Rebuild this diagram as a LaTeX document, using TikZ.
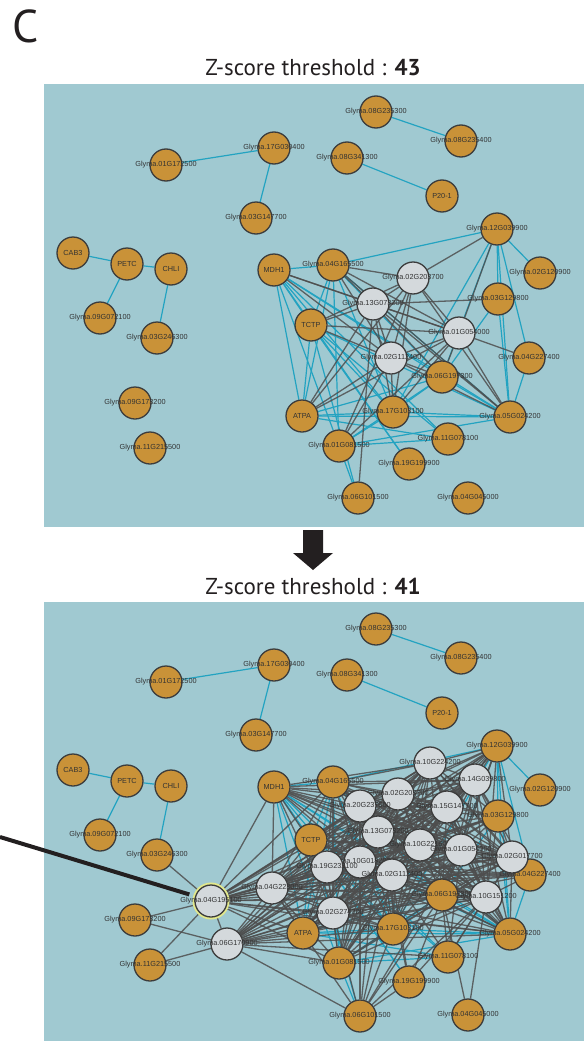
\documentclass[tikz,border=0pt]{standalone}
\usepackage{fontspec}
\setmainfont{PT Sans}
\newfontfamily\lblfont{Liberation Sans}
\pgfdeclarelayer{bg}
\pgfdeclarelayer{edges}
\pgfsetlayers{bg,edges,main}
\definecolor{panelbg}{RGB}{160,201,209}
\definecolor{orangefill}{RGB}{201,146,56}
\definecolor{greyfill}{RGB}{212,217,220}
\definecolor{nodeline}{RGB}{60,60,60}
\definecolor{cyanedge}{RGB}{35,163,193}
\definecolor{greyedge}{RGB}{78,78,78}
\definecolor{labeltext}{RGB}{50,50,50}
\definecolor{ringcol}{RGB}{226,232,140}
\definecolor{inkblack}{RGB}{35,31,32}
\tikzset{
  on/.style={circle, draw=nodeline, fill=orangefill, line width=1.3pt, minimum size=32pt, inner sep=0pt},
  gn/.style={circle, draw=nodeline, fill=greyfill, line width=1.3pt, minimum size=32pt, inner sep=0pt},
  hl/.style={preaction={draw=ringcol, line width=5pt}},
  lbl/.style={font=\lblfont\fontsize{7.3}{8}\selectfont, text=labeltext, inner sep=0pt},
  cy/.style={draw=cyanedge, line width=1.2pt},
  gy/.style={draw=greyedge, line width=1.3pt, opacity=0.85},
  ttl/.style={font=\fontsize{23}{26}\selectfont, text=inkblack, anchor=base, inner sep=0pt},
  panel/.style={fill=panelbg}
}
\newcommand\nodeO[3]{\node[on,label={[lbl]center:#3}] (#1) at (#2) {};}
\newcommand\nodeG[3]{\node[gn,label={[lbl]center:#3}] (#1) at (#2) {};}
\def\toplistcy{01G172500/17G030400, 17G030400/03G147700, CAB3/PETC, PETC/CHLI, PETC/09G072100, CHLI/03G246300,
 08G235300/08G235400, 08G341300/P201, 04G165500/12G039900, 12G039900/02G120900, 12G039900/03G129800,
 12G039900/04G227400, 12G039900/05G024200, 12G039900/17G103100, 12G039900/06G197300, 03G129800/05G024200,
 03G129800/06G197300, 04G227400/05G024200,
 MDH1/04G165500, MDH1/TCTP, MDH1/ATPA, MDH1/01G081500, MDH1/17G103100, MDH1/06G197300, MDH1/05G024200,
 MDH1/19G199900, MDH1/11G078100,
 04G165500/TCTP, 04G165500/ATPA, 04G165500/01G081500, 04G165500/17G103100, 04G165500/06G197300, 04G165500/05G024200,
 TCTP/06G101500, TCTP/19G199900, TCTP/05G024200, TCTP/11G078100, TCTP/17G103100, TCTP/ATPA,
 ATPA/05G024200, ATPA/11G078100, ATPA/17G103100, ATPA/06G197300,
 17G103100/05G024200, 17G103100/06G197300, 01G081500/05G024200, 01G081500/11G078100, 01G081500/06G101500,
 01G081500/06G197300, 06G197300/05G024200, 01G081500/17G103100}
\def\corelist{10G224200,14G039800,02G203700,20G237600,15G147700,13G073200,10G221600,01G054000,02G017700,10G018200,19G232100,02G112400,04G223000,10G151200,02G274200}
\begin{document}
\begin{tikzpicture}[x=1pt,y=-1pt]
\useasboundingbox (0,0) rectangle (588,1041);
\begin{pgfonlayer}{bg}
\fill[panel] (44,84) rectangle (584,527);
\fill[panel] (44,602) rectangle (584,1041);
\end{pgfonlayer}
% headings
\node[anchor=base west, inner sep=0pt, font=\fontsize{46}{46}\selectfont, text=inkblack] (lbC) at (12,43) {C};
\node[ttl] (title1) at (313,76) {Z-score threshold : \textbf{43}};
\node[ttl] (title2) at (313,594) {Z-score threshold : \textbf{41}};
\coordinate (arrtop) at (313,530);
\fill[inkblack] (arrtop) ++(-10,0) -- ++(20,0) -- ++(0,23) -- ++(10,0) -- ++(-20,17) -- ++(-20,-17) -- ++(10,0) -- cycle;

% ---------------- top network ----------------
\nodeO{t01G172500}{166,165}{Glyma.01G172500}
\nodeO{t17G030400}{274,148}{Glyma.17G030400}
\nodeO{t03G147700}{256,218}{Glyma.03G147700}
\nodeO{tCAB3}{73,253}{CAB3}
\nodeO{tPETC}{127,264}{PETC}
\nodeO{tCHLI}{171,269}{CHLI}
\nodeO{tMDH1}{274,270}{MDH1}
\nodeO{t09G072100}{100,318}{Glyma.09G072100}
\nodeO{t03G246300}{157,338}{Glyma.03G246300}
\nodeO{t09G173200}{135,403}{Glyma.09G173200}
\nodeO{t11G215500}{150,448}{Glyma.11G215500}
\nodeO{t08G235300}{376,112}{Glyma.08G235300}
\nodeO{t08G235400}{461,141}{Glyma.08G235400}
\nodeO{t08G341300}{347,158}{Glyma.08G341300}
\nodeO{tP201}{442,196}{P20-1}
\nodeO{t12G039900}{497,229}{Glyma.12G039900}
\nodeO{t02G120900}{540,273}{Glyma.02G120900}
\nodeO{t04G165500}{333,265}{Glyma.04G165500}
\nodeG{t02G203700}{413,278}{Glyma.02G203700}
\nodeG{t13G073200}{373,304}{Glyma.13G073200}
\nodeO{t03G129800}{498,299}{Glyma.03G129800}
\nodeO{tTCTP}{311,325}{TCTP}
\nodeG{t01G054000}{459,333}{Glyma.01G054000}
\nodeG{t02G112400}{391,358}{Glyma.02G112400}
\nodeO{t04G227400}{529,358}{Glyma.04G227400}
\nodeO{t06G197300}{442,377}{Glyma.06G197300}
\nodeO{tATPA}{302,416}{ATPA}
\nodeO{t17G103100}{393,412}{Glyma.17G103100}
\nodeO{t05G024200}{510,417}{Glyma.05G024200}
\nodeO{t01G081500}{339,446}{Glyma.01G081500}
\nodeO{t11G078100}{448,439}{Glyma.11G078100}
\nodeO{t19G199900}{409,464}{Glyma.19G199900}
\nodeO{t06G101500}{358,498}{Glyma.06G101500}
\nodeO{t04G045000}{468,498}{Glyma.04G045000}

% ---------------- bottom network ----------------
\nodeO{b01G172500}{166,682}{Glyma.01G172500}
\nodeO{b17G030400}{274,665}{Glyma.17G030400}
\nodeO{b03G147700}{256,735}{Glyma.03G147700}
\nodeO{bCAB3}{73,770}{CAB3}
\nodeO{bPETC}{127,781}{PETC}
\nodeO{bCHLI}{171,786}{CHLI}
\nodeO{bMDH1}{274,787}{MDH1}
\nodeO{b09G072100}{100,835}{Glyma.09G072100}
\nodeO{b03G246300}{157,855}{Glyma.03G246300}
\nodeO{b09G173200}{135,920}{Glyma.09G173200}
\nodeO{b11G215500}{150,965}{Glyma.11G215500}
\nodeO{b08G235300}{376,629}{Glyma.08G235300}
\nodeO{b08G235400}{461,658}{Glyma.08G235400}
\nodeO{b08G341300}{347,675}{Glyma.08G341300}
\nodeO{bP201}{442,713}{P20-1}
\nodeO{b12G039900}{497,746}{Glyma.12G039900}
\nodeO{b02G120900}{540,790}{Glyma.02G120900}
\nodeO{b04G165500}{333,782}{Glyma.04G165500}
\nodeO{b03G129800}{498,816}{Glyma.03G129800}
\nodeO{bTCTP}{311,840}{TCTP}
\nodeO{b04G227400}{530,875}{Glyma.04G227400}
\nodeO{b06G197300}{442,895}{Glyma.06G197300}
\nodeO{bATPA}{303,933}{ATPA}
\nodeO{b17G103100}{393,929}{Glyma.17G103100}
\nodeO{b05G024200}{510,934}{Glyma.05G024200}
\nodeO{b01G081500}{339,963}{Glyma.01G081500}
\nodeO{b11G078100}{448,957}{Glyma.11G078100}
\nodeO{b19G199900}{409,982}{Glyma.19G199900}
\nodeO{b06G101500}{360,1016}{Glyma.06G101500}
\nodeO{b04G045000}{468,1015}{Glyma.04G045000}
\nodeG{b10G224200}{430,763}{Glyma.10G224200}
\nodeG{b14G039800}{475,780}{Glyma.14G039800}
\nodeG{b02G203700}{398,794}{Glyma.02G203700}
\nodeG{b20G237600}{360,806}{Glyma.20G237600}
\nodeG{b15G147700}{447,807}{Glyma.15G147700}
\nodeG{b13G073200}{378,832}{Glyma.13G073200}
\nodeG{b10G221600}{420,845}{Glyma.10G221600}
\nodeG{b01G054000}{461,850}{Glyma.01G054000}
\nodeG{b02G017700}{512,857}{Glyma.02G017700}
\nodeG{b10G018200}{360,862}{Glyma.10G018200}
\nodeG{b19G232100}{327,867}{Glyma.19G232100}
\nodeG{b02G112400}{392,875}{Glyma.02G112400}
\nodeG{b04G223000}{272,888}{Glyma.04G223000}
\nodeG{b10G151200}{486,897}{Glyma.10G151200}
\nodeG{b02G274200}{333,913}{Glyma.02G274200}
\node[gn,hl,label={[lbl]center:Glyma.04G195100}] (b04G195100) at (211,901) {};
\nodeG{b06G170900}{227,944}{Glyma.06G170900}

% ---------------- edges ----------------
\begin{pgfonlayer}{edges}
\foreach \a/\b in \toplistcy {\draw[cy] (t\a) -- (t\b); \draw[cy] (b\a) -- (b\b);}
\foreach \a/\b in {MDH1/13G073200, MDH1/01G054000, MDH1/02G112400,
 04G165500/02G203700, 04G165500/13G073200, 04G165500/01G054000, 04G165500/02G112400, 04G165500/05G024200,
 02G203700/12G039900, 02G203700/13G073200, 02G203700/01G054000, 02G203700/TCTP, 02G203700/02G112400,
 02G203700/17G103100, 02G203700/ATPA, 02G203700/05G024200, 02G203700/01G081500,
 13G073200/03G129800, 13G073200/TCTP, 13G073200/01G054000, 13G073200/02G112400, 13G073200/ATPA,
 13G073200/06G101500, 13G073200/17G103100, 13G073200/05G024200, 13G073200/06G197300,
 01G054000/12G039900, 01G054000/04G227400, 01G054000/02G112400, 01G054000/TCTP, 01G054000/05G024200,
 01G054000/17G103100, 01G054000/01G081500, 01G054000/ATPA, 01G054000/06G197300,
 02G112400/TCTP, 02G112400/ATPA, 02G112400/17G103100, 02G112400/01G081500, 02G112400/06G197300, 02G112400/05G024200}
 {\draw[gy] (t\a) -- (t\b);}
% bottom grey edges
\foreach \a [count=\i] in \corelist {
  \foreach \b [count=\j] in \corelist {
    \ifnum\j>\i \draw[gy] (b\a) -- (b\b); \fi
  }
}
\foreach \a in {04G195100,06G170900,04G165500,TCTP,ATPA,17G103100,06G197300,05G024200,12G039900,03G129800,04G227400,MDH1,01G081500} {
  \foreach \b in \corelist {\draw[gy] (b\a) -- (b\b);}
}
\foreach \a/\b in {03G246300/04G195100, 09G173200/04G195100, 11G215500/04G195100, 04G195100/06G170900,
 09G173200/06G170900, 11G215500/06G170900, 06G170900/06G101500, 06G170900/01G081500, 06G170900/ATPA,
 06G170900/17G103100, 06G170900/05G024200, 06G170900/11G078100, 06G170900/06G197300,
 04G195100/MDH1, 04G195100/04G165500, 04G195100/TCTP, 04G195100/ATPA, 04G195100/17G103100, 04G195100/06G197300,
 04G195100/05G024200, 04G195100/01G081500, 04G195100/04G227400,
 06G101500/13G073200, 06G101500/02G112400, 06G101500/10G018200, 06G101500/02G274200, 06G101500/10G151200,
 06G101500/06G197300, 06G101500/01G054000, 06G101500/19G199900, 06G101500/17G103100, 06G101500/04G223000,
 11G078100/10G151200, 11G078100/02G017700, 11G078100/01G054000, 11G078100/02G112400, 11G078100/06G197300,
 19G199900/01G054000, 19G199900/10G151200, 19G199900/02G112400, 19G199900/13G073200,
 04G045000/10G151200, 04G045000/06G197300,
 TCTP/06G197300, ATPA/06G197300, 04G165500/05G024200, 12G039900/06G197300, 01G081500/06G197300}
 {\draw[gy] (b\a) -- (b\b);}
\end{pgfonlayer}

% pointer line
\coordinate (ptrstart) at (0,837);
\draw[inkblack, line width=4pt, shorten >=6pt] (ptrstart) -- (b04G195100);
\end{tikzpicture}
\end{document}
